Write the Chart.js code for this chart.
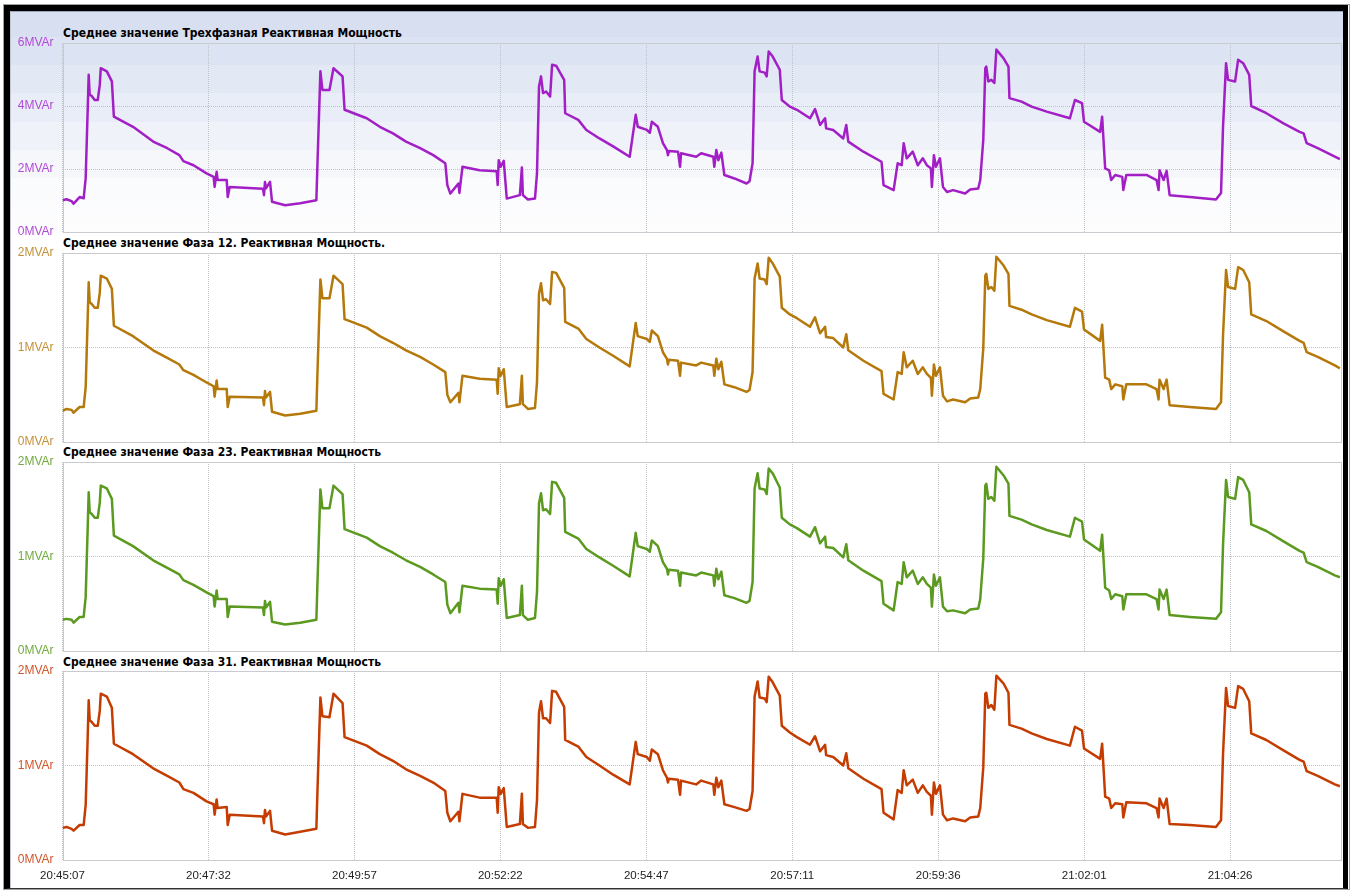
<!DOCTYPE html>
<html>
<head>
<meta charset="utf-8">
<script src="https://cdn.jsdelivr.net/npm/chart.js@4.4.1/dist/chart.umd.min.js"></script>
<style>
    body { margin: 0; background: #fff; width: 1354px; height: 891px; overflow: hidden; position: relative; }
    .abs { position: absolute; }
    #outer { left: 3px; top: 4px; width: 1347px; height: 886px; border: 1px solid #a0a0a0; box-sizing: border-box; }
    #frame { left: 4px; top: 5px; width: 1344px; height: 884px; box-sizing: border-box;
        border-top: 6px solid #000; border-left: 6px solid #000; border-right: 5px solid #000;
        border-bottom: 1px solid #333; background: #fff; }
    #inner { left: 10px; top: 11px; width: 1333px; height: 877px; box-sizing: border-box;
        border-top: 1px solid #98a4b8; border-left: 1px solid #c4c8d0; }
    #bands { left: 11px; top: 12px; width: 1332px; height: 221px;
        background: linear-gradient(to bottom,
            #d7dff0 0px, #d7dff0 25px, #dce3f2 25px, #dce3f2 53px,
            #e2e8f4 53px, #e2e8f4 81px, #e9edf7 81px, #e9edf7 110px,
            #eff2f9 110px, #eff2f9 138px, #f5f7fb 138px, #f5f7fb 166px,
            #fafbfd 166px, #fdfdfe 221px); }
    .title { left: 63px; font: bold 12px "DejaVu Sans Condensed", "DejaVu Sans", sans-serif; color: #000; line-height: 14px; white-space: nowrap; }
    canvas { position: absolute; left: 11px; }
</style>
</head>
<body>
<div id="outer" class="abs"></div>
<div id="frame" class="abs"></div>
<div id="inner" class="abs"></div>
<div id="bands" class="abs"></div>

<div class="abs title" style="top:26px">Среднее значение Трехфазная Реактивная Мощность</div>
<div class="abs title" style="top:236px">Среднее значение Фаза 12. Реактивная Мощность.</div>
<div class="abs title" style="top:445px">Среднее значение Фаза 23. Реактивная Мощность</div>
<div class="abs title" style="top:655px">Среднее значение Фаза 31. Реактивная Мощность</div>

<canvas id="c1" width="1332" height="223" style="top:26px"></canvas>
<canvas id="c2" width="1332" height="223" style="top:236px"></canvas>
<canvas id="c3" width="1332" height="223" style="top:445px"></canvas>
<canvas id="c4" width="1332" height="234" style="top:654px"></canvas>

<script>
// ── Data (seconds from 20:45:07, MVAr) ──────────────────────────────
const times = [
    0, 4, 9, 11, 17, 21, 23, 25, 26, 27,
    29, 32, 35, 37, 38, 44, 49, 51, 70, 90,
    104, 116, 120, 130, 143, 150, 151, 153, 154, 163,
    164, 166, 199, 200, 201, 202, 206, 208, 221, 236,
    252, 253, 256, 258, 265, 269, 278, 280, 302, 315,
    328, 341, 355, 368, 380, 382, 385, 393, 394, 397,
    414, 431, 432, 433, 435, 438, 441, 454, 456, 457,
    462, 469, 471, 473, 475, 477, 480, 484, 486, 490,
    496, 498, 499, 512, 520, 533, 547, 563, 569, 571,
    580, 583, 585, 591, 596, 600, 601, 602, 611, 613,
    614, 629, 634, 646, 647, 649, 651, 654, 657, 667,
    679, 682, 685, 687, 690, 692, 697, 699, 701, 705,
    712, 714, 722, 729, 742, 747, 752, 757, 758, 765,
    775, 778, 780, 795, 813, 815, 825, 829, 833, 835,
    838, 844, 849, 854, 858, 862, 863, 865, 867, 871,
    874, 878, 884, 896, 901, 909, 911, 914, 916, 917,
    919, 922, 925, 927, 934, 939, 940, 952, 962, 977,
    1000, 1005, 1012, 1014, 1030, 1032, 1035, 1039, 1041, 1045,
    1052, 1053, 1056, 1076, 1086, 1088, 1089, 1093, 1096, 1099,
    1119, 1145, 1150, 1152, 1155, 1157, 1164, 1167, 1172, 1178,
    1180, 1195, 1212, 1228, 1232, 1235, 1246, 1263, 1268
];

const totalQ = [
    1.01, 1.04, 0.98, 0.90, 1.11, 1.07, 1.71, 3.87, 4.99, 4.35,
    4.32, 4.19, 4.19, 4.67, 5.20, 5.10, 4.78, 3.66, 3.34, 2.87,
    2.66, 2.44, 2.25, 2.12, 1.86, 1.75, 1.43, 1.91, 1.65, 1.65,
    1.11, 1.43, 1.37, 1.17, 1.59, 1.39, 1.59, 0.96, 0.85, 0.91,
    1.01, 2.07, 5.10, 4.51, 4.51, 5.20, 4.94, 3.88, 3.61, 3.34,
    3.13, 2.87, 2.66, 2.44, 2.18, 1.49, 1.22, 1.54, 1.24, 2.07,
    1.96, 1.93, 1.49, 2.28, 2.07, 2.26, 1.06, 1.17, 2.05, 1.17,
    1.03, 1.06, 1.86, 4.62, 4.94, 4.41, 4.46, 4.30, 5.31, 5.28,
    4.94, 4.83, 3.77, 3.56, 3.24, 2.97, 2.71, 2.39, 3.72, 3.34,
    3.24, 3.15, 3.50, 3.34, 2.82, 2.60, 2.44, 2.57, 2.55, 2.07,
    2.50, 2.39, 2.50, 2.39, 2.07, 2.60, 2.28, 2.52, 1.81, 1.70,
    1.54, 1.61, 2.18, 5.10, 5.57, 5.10, 5.06, 4.94, 5.73, 5.57,
    5.15, 4.19, 3.98, 3.88, 3.61, 3.90, 3.40, 3.61, 3.29, 3.24,
    2.97, 3.40, 2.87, 2.55, 2.23, 1.49, 1.33, 2.18, 2.12, 2.82,
    2.34, 2.55, 2.12, 2.34, 2.12, 2.02, 1.43, 2.44, 2.07, 2.34,
    1.43, 1.27, 1.33, 1.22, 1.35, 1.38, 1.65, 2.92, 5.20, 5.25,
    4.78, 4.83, 4.73, 5.79, 5.52, 5.25, 4.25, 4.14, 3.98, 3.82,
    3.61, 4.19, 4.09, 3.50, 3.18, 3.66, 2.02, 1.96, 1.65, 1.81,
    1.75, 1.33, 1.81, 1.81, 1.65, 1.33, 1.96, 1.65, 1.94, 1.17,
    1.11, 1.03, 1.24, 3.34, 5.36, 4.83, 4.78, 5.47, 5.36, 4.99,
    4.00, 3.77, 3.45, 3.18, 3.13, 2.82, 2.66, 2.39, 2.31
];

const phase12 = [
    0.33, 0.35, 0.34, 0.31, 0.37, 0.37, 0.58, 1.31, 1.69, 1.48,
    1.46, 1.42, 1.42, 1.58, 1.76, 1.73, 1.62, 1.23, 1.12, 0.97,
    0.89, 0.82, 0.76, 0.71, 0.63, 0.59, 0.48, 0.65, 0.56, 0.56,
    0.37, 0.48, 0.47, 0.39, 0.54, 0.47, 0.53, 0.32, 0.28, 0.30,
    0.33, 0.70, 1.72, 1.52, 1.52, 1.76, 1.67, 1.30, 1.21, 1.12,
    1.05, 0.97, 0.90, 0.82, 0.74, 0.50, 0.42, 0.52, 0.42, 0.70,
    0.67, 0.66, 0.51, 0.78, 0.70, 0.77, 0.37, 0.40, 0.70, 0.40,
    0.35, 0.36, 0.63, 1.57, 1.68, 1.50, 1.51, 1.46, 1.80, 1.79,
    1.67, 1.63, 1.27, 1.20, 1.09, 1.00, 0.91, 0.80, 1.26, 1.12,
    1.09, 1.06, 1.18, 1.12, 0.95, 0.88, 0.82, 0.87, 0.86, 0.70,
    0.84, 0.81, 0.84, 0.81, 0.70, 0.88, 0.77, 0.85, 0.61, 0.58,
    0.53, 0.55, 0.74, 1.73, 1.89, 1.73, 1.72, 1.67, 1.95, 1.89,
    1.75, 1.42, 1.35, 1.31, 1.22, 1.32, 1.15, 1.22, 1.11, 1.10,
    1.00, 1.14, 0.97, 0.86, 0.75, 0.51, 0.45, 0.74, 0.72, 0.95,
    0.79, 0.86, 0.72, 0.79, 0.72, 0.68, 0.49, 0.82, 0.70, 0.79,
    0.49, 0.43, 0.45, 0.42, 0.46, 0.47, 0.56, 0.99, 1.76, 1.78,
    1.62, 1.64, 1.60, 1.96, 1.87, 1.78, 1.44, 1.40, 1.35, 1.29,
    1.22, 1.42, 1.38, 1.19, 1.07, 1.24, 0.68, 0.66, 0.56, 0.61,
    0.59, 0.45, 0.61, 0.61, 0.56, 0.45, 0.66, 0.56, 0.66, 0.39,
    0.37, 0.35, 0.42, 1.13, 1.82, 1.64, 1.62, 1.85, 1.82, 1.69,
    1.35, 1.28, 1.17, 1.07, 1.05, 0.95, 0.90, 0.81, 0.78
];

const phase23 = [
    0.33, 0.34, 0.33, 0.30, 0.36, 0.36, 0.57, 1.30, 1.68, 1.47,
    1.45, 1.41, 1.41, 1.57, 1.75, 1.72, 1.61, 1.22, 1.11, 0.96,
    0.88, 0.81, 0.75, 0.70, 0.62, 0.58, 0.47, 0.64, 0.55, 0.55,
    0.36, 0.47, 0.46, 0.38, 0.53, 0.46, 0.52, 0.31, 0.28, 0.30,
    0.33, 0.69, 1.71, 1.51, 1.51, 1.75, 1.66, 1.29, 1.20, 1.11,
    1.04, 0.96, 0.89, 0.81, 0.73, 0.49, 0.40, 0.51, 0.41, 0.69,
    0.66, 0.65, 0.50, 0.77, 0.69, 0.76, 0.35, 0.38, 0.69, 0.38,
    0.33, 0.35, 0.62, 1.56, 1.67, 1.49, 1.50, 1.45, 1.79, 1.78,
    1.66, 1.62, 1.26, 1.19, 1.08, 0.99, 0.90, 0.79, 1.25, 1.11,
    1.08, 1.05, 1.17, 1.11, 0.94, 0.87, 0.81, 0.86, 0.85, 0.69,
    0.83, 0.80, 0.83, 0.80, 0.69, 0.87, 0.76, 0.84, 0.59, 0.56,
    0.51, 0.53, 0.73, 1.72, 1.88, 1.72, 1.71, 1.66, 1.93, 1.88,
    1.73, 1.41, 1.34, 1.30, 1.21, 1.31, 1.14, 1.21, 1.10, 1.09,
    0.99, 1.13, 0.96, 0.85, 0.74, 0.50, 0.43, 0.73, 0.71, 0.94,
    0.78, 0.85, 0.71, 0.78, 0.71, 0.67, 0.47, 0.81, 0.69, 0.78,
    0.47, 0.42, 0.43, 0.40, 0.44, 0.45, 0.55, 0.98, 1.75, 1.77,
    1.61, 1.63, 1.59, 1.95, 1.86, 1.77, 1.43, 1.39, 1.34, 1.28,
    1.21, 1.41, 1.37, 1.18, 1.06, 1.23, 0.67, 0.64, 0.55, 0.60,
    0.58, 0.44, 0.60, 0.60, 0.55, 0.44, 0.65, 0.55, 0.65, 0.38,
    0.36, 0.34, 0.41, 1.12, 1.81, 1.63, 1.61, 1.84, 1.81, 1.68,
    1.34, 1.27, 1.16, 1.06, 1.04, 0.94, 0.89, 0.80, 0.78
];

const phase31 = [
    0.34, 0.35, 0.33, 0.31, 0.37, 0.37, 0.58, 1.30, 1.69, 1.48,
    1.46, 1.42, 1.42, 1.58, 1.76, 1.73, 1.61, 1.23, 1.12, 0.97,
    0.89, 0.82, 0.75, 0.71, 0.62, 0.59, 0.48, 0.64, 0.55, 0.56,
    0.37, 0.48, 0.46, 0.39, 0.53, 0.46, 0.52, 0.31, 0.27, 0.30,
    0.33, 0.70, 1.72, 1.52, 1.51, 1.76, 1.66, 1.30, 1.21, 1.12,
    1.05, 0.96, 0.89, 0.82, 0.73, 0.50, 0.41, 0.51, 0.41, 0.70,
    0.66, 0.66, 0.50, 0.77, 0.70, 0.76, 0.35, 0.38, 0.70, 0.38,
    0.34, 0.35, 0.63, 1.56, 1.68, 1.50, 1.50, 1.45, 1.79, 1.78,
    1.66, 1.62, 1.27, 1.20, 1.09, 1.00, 0.90, 0.80, 1.25, 1.12,
    1.09, 1.05, 1.17, 1.12, 0.95, 0.87, 0.82, 0.86, 0.85, 0.69,
    0.84, 0.80, 0.84, 0.80, 0.69, 0.87, 0.77, 0.84, 0.59, 0.56,
    0.52, 0.54, 0.73, 1.73, 1.89, 1.72, 1.71, 1.67, 1.94, 1.88,
    1.74, 1.42, 1.35, 1.30, 1.22, 1.31, 1.15, 1.22, 1.11, 1.09,
    1.00, 1.13, 0.97, 0.86, 0.75, 0.50, 0.43, 0.74, 0.71, 0.95,
    0.79, 0.85, 0.71, 0.79, 0.72, 0.68, 0.48, 0.82, 0.70, 0.79,
    0.48, 0.42, 0.44, 0.41, 0.45, 0.46, 0.55, 0.98, 1.76, 1.77,
    1.61, 1.64, 1.59, 1.95, 1.87, 1.77, 1.43, 1.39, 1.34, 1.28,
    1.21, 1.41, 1.37, 1.18, 1.07, 1.23, 0.67, 0.65, 0.55, 0.60,
    0.59, 0.45, 0.61, 0.60, 0.55, 0.45, 0.65, 0.55, 0.65, 0.38,
    0.37, 0.35, 0.42, 1.12, 1.82, 1.63, 1.61, 1.84, 1.81, 1.68,
    1.34, 1.27, 1.16, 1.06, 1.04, 0.94, 0.89, 0.80, 0.78
];

// x axis: tick positions (s) and their labels
const tickSeconds = [0, 144.875, 289.75, 434.625, 579.5, 724.375, 869.25, 1014.125, 1159];
const tickLabels = ["20:45:07", "20:47:32", "20:49:57", "20:52:22", "20:54:47",
                    "20:57:11", "20:59:36", "21:02:01", "21:04:26"];
const xMax = 1268.6;

// ── Plot frame plugin ───────────────────────────────────────────────
const plotFrame = {
    id: "plotFrame",
    beforeDatasetsDraw(chart) {
        const a = chart.chartArea;
        const c = chart.ctx;
        c.save();
        c.strokeStyle = "#c9cbd0";
        c.lineWidth = 1;
        c.strokeRect(Math.round(a.left) + 0.5, Math.round(a.top) + 0.5,
                     Math.round(a.right - a.left), Math.round(a.bottom - a.top));
        c.restore();
    }
};

function makeChart(id, values, opts) {
    const ctx = document.getElementById(id).getContext("2d");
    return new Chart(ctx, {
        type: "line",
        data: {
            datasets: [{
                data: times.map((t, i) => ({ x: t, y: values[i] })),
                borderColor: opts.line,
                borderWidth: 2.5,
                borderJoinStyle: "round",
                pointRadius: 0,
                tension: 0,
                fill: false,
            }]
        },
        options: {
            responsive: false,
            animation: false,
            events: [],
            // label overflow (half label + tick padding) is ~16px, so pad 17 everywhere
            layout: { padding: { top: 17, bottom: opts.showX ? 0 : 17, left: 0, right: 2.5 } },
            plugins: { legend: { display: false }, tooltip: { enabled: false } },
            scales: {
                x: {
                    type: "linear",
                    min: 0,
                    max: xMax,
                    afterBuildTicks: (s) => { s.ticks = tickSeconds.map(v => ({ value: v })); },
                    afterFit: (s) => { s.height = opts.showX ? 28 : 0; },
                    ticks: {
                        display: opts.showX,
                        autoSkip: false,
                        maxRotation: 0,
                        padding: 9,
                        color: "#222",
                        font: { family: "'Liberation Sans', Arial, sans-serif", size: 11.5 },
                        callback: (v, i) => tickLabels[i],
                    },
                    grid: { color: "#bfc3c8", drawTicks: false },
                    border: { display: false, dash: [1, 1] },
                },
                y: {
                    min: 0,
                    max: opts.max,
                    afterFit: (s) => { s.width = 51.5; },
                    ticks: {
                        stepSize: opts.step,
                        padding: 9,
                        color: opts.label,
                        font: { family: "'Liberation Sans', Arial, sans-serif", size: 12 },
                        callback: (v) => v + "MVAr",
                    },
                    grid: { color: "#bfc3c8", drawTicks: false },
                    border: { display: false, dash: [1, 1] },
                },
            },
        },
        plugins: [plotFrame],
    });
}

makeChart("c1", totalQ,  { line: "#a21fc6", label: "#b24ad8", max: 6, step: 2, showX: false });
makeChart("c2", phase12, { line: "#b5780a", label: "#c4903a", max: 2, step: 1, showX: false });
makeChart("c3", phase23, { line: "#5b9a1f", label: "#72aa40", max: 2, step: 1, showX: false });
makeChart("c4", phase31, { line: "#c43c00", label: "#d0552a", max: 2, step: 1, showX: true });
</script>
</body>
</html>
